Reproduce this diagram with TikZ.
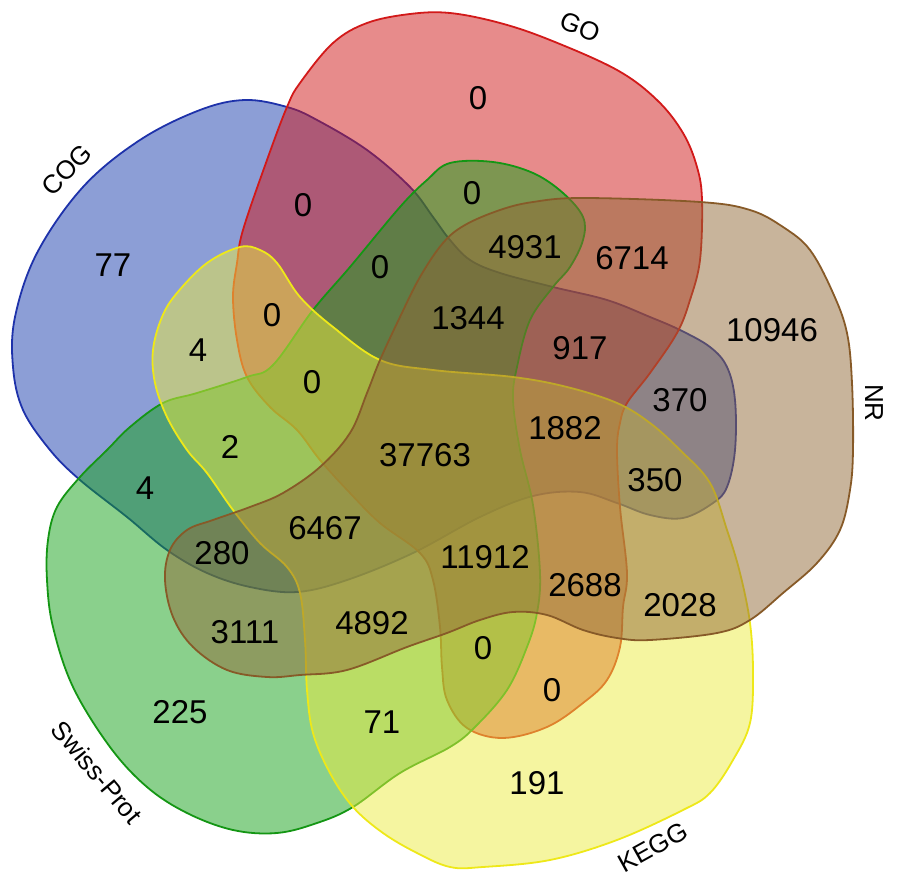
\documentclass[tikz,border=0pt]{standalone}
\usepackage{fontspec}
\setmainfont{Liberation Sans}

\definecolor{cogfill}{RGB}{25,61,173}
\definecolor{cogline}{RGB}{30,50,170}
\definecolor{gofill}{RGB}{207,23,23}
\definecolor{goline}{RGB}{210,25,25}
\definecolor{spfill}{RGB}{21,161,25}
\definecolor{spline}{RGB}{20,150,20}
\definecolor{keggfill}{RGB}{235,235,65}
\definecolor{keggline}{RGB}{238,232,25}
\definecolor{nrfill}{RGB}{145,105,55}
\definecolor{nrline}{RGB}{135,90,40}

\begin{document}
\begin{tikzpicture}[x=1pt, y=-1pt,
	set/.style={fill opacity=0.5, line width=1.8pt},
	every node/.style={font=\fontsize{33}{33}\selectfont},
	lab/.style={font=\fontsize{26}{26}\selectfont}]
	\useasboundingbox (0,0) rectangle (900,885);

	% COG
	\filldraw[set, fill=cogfill, draw=cogline] plot[smooth cycle, tension=0.6] coordinates {
		(245,100) (287,107) (317,120) (367,150) (410,187) (433,217) (450,240)
		(470,260) (500,273) (553,287) (607,300) (650,317) (680,330) (710,347)
		(727,367) (735,400) (735,450) (727,487) (713,503) (683,518) (650,515)
		(617,503) (580,492) (533,496) (480,517) (413,553) (347,580) (297,592)
		(250,587) (207,573) (167,550) (127,517) (80,480) (50,450) (23,410)
		(13,367) (15,317) (37,253) (83,187) (140,140) (200,110)};
	% GO
	\filldraw[set, fill=gofill, draw=goline] plot[smooth cycle, tension=0.6] coordinates {
		(450,13) (500,23) (550,40) (617,70) (657,100) (683,133) (697,167)
		(702,200) (700,260) (690,300) (677,333) (650,373) (627,403) (620,423)
		(617,450) (620,507) (627,573) (623,607) (620,647) (607,680) (583,703)
		(547,727) (503,738) (467,728) (447,700) (442,667) (440,627) (433,580)
		(420,553) (380,523) (350,493) (320,460) (297,430) (270,407) (247,377)
		(237,340) (233,297) (237,263) (243,230) (267,160) (287,107) (300,83)
		(333,43) (367,23) (410,14)};
	% Swiss-Prot
	\filldraw[set, fill=spfill, draw=spline] plot[smooth cycle, tension=0.6] coordinates {
		(450,163) (493,162) (533,173) (563,193) (583,217) (583,240) (570,267)
		(553,287) (530,320) (517,367) (513,400) (520,450) (533,505) (540,573)
		(537,613) (527,647) (507,690) (475,727) (450,747) (400,773) (353,807)
		(317,823) (277,833) (233,830) (187,813) (147,787) (110,747) (73,687)
		(53,627) (47,580) (48,540) (57,507) (80,477) (107,450) (130,427)
		(163,403) (197,393) (247,377) (273,365) (313,310) (350,267) (400,207)
		(427,180)};
	% KEGG
	\filldraw[set, fill=keggfill, draw=keggline] plot[smooth cycle, tension=0.6] coordinates {
		(240,247) (260,250) (277,263) (300,297) (333,327) (380,360) (433,370)
		(513,377) (567,387) (617,403) (650,423) (680,450) (710,483) (727,530)
		(740,573) (750,623) (753,673) (750,723) (733,760) (710,793) (683,810)
		(617,840) (550,860) (483,867) (450,867) (417,853) (383,833) (353,807)
		(330,773) (313,733) (307,690) (305,640) (300,593) (287,567) (260,543)
		(233,510) (207,473) (187,450) (167,417) (155,383) (153,350) (162,317)
		(177,293) (207,263)};
	% NR
	\filldraw[set, fill=nrfill, draw=nrline] plot[smooth cycle, tension=0.6] coordinates {
		(500,210) (533,202) (583,198) (700,202) (750,210) (783,227) (810,250)
		(833,293) (847,333) (852,383) (853,450) (850,490) (840,530) (817,563)
		(783,593) (750,620) (717,633) (650,640) (617,638) (583,630) (547,615)
		(513,612) (480,620) (447,633) (407,647) (347,670) (300,675) (267,677)
		(227,670) (193,647) (173,617) (165,580) (170,550) (187,530) (213,520)
		(250,507) (283,493) (320,467) (350,433) (367,393) (380,360) (400,317)
		(420,277) (443,243) (465,225)};

	% set names
	\node[lab, rotate=45]  (cog)  at (67,170)  {COG};
	\node[lab, rotate=-22] (go)   at (580,27)  {GO};
	\node[lab, rotate=-90] (nr)   at (874,403) {NR};
	\node[lab, rotate=-50] (sp)   at (97,772)  {Swiss-Prot};
	\node[lab, rotate=29]  (kegg) at (653,847) {KEGG};

	% counts
	\node (n1)  at (478,98)  {0};
	\node (n2)  at (113,265) {77};
	\node (n3)  at (303,205) {0};
	\node (n4)  at (472,193) {0};
	\node (n5)  at (525,247) {4931};
	\node (n6)  at (632,258) {6714};
	\node (n7)  at (380,267) {0};
	\node (n8)  at (468,318) {1344};
	\node (n9)  at (580,348) {917};
	\node (n10) at (772,330) {10946};
	\node (n11) at (272,315) {0};
	\node (n12) at (198,350) {4};
	\node (n13) at (312,382) {0};
	\node (n14) at (680,400) {370};
	\node (n15) at (565,428) {1882};
	\node (n16) at (425,455) {37763};
	\node (n17) at (230,447) {2};
	\node (n18) at (655,480) {350};
	\node (n19) at (145,488) {4};
	\node (n20) at (325,528) {6467};
	\node (n21) at (222,553) {280};
	\node (n22) at (485,557) {11912};
	\node (n23) at (585,585) {2688};
	\node (n24) at (680,605) {2028};
	\node (n25) at (245,632) {3111};
	\node (n26) at (372,623) {4892};
	\node (n27) at (483,648) {0};
	\node (n28) at (552,690) {0};
	\node (n29) at (180,712) {225};
	\node (n30) at (382,722) {71};
	\node (n31) at (537,783) {191};
\end{tikzpicture}
\end{document}
